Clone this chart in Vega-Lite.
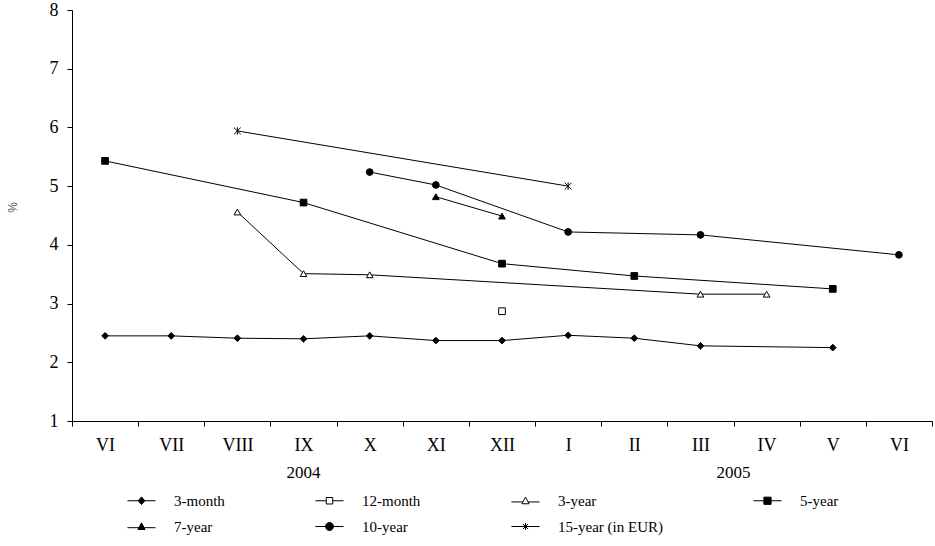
{
  "$schema": "https://vega.github.io/schema/vega-lite/v6.json",
  "width": 860,
  "height": 411,
  "autosize": {"type": "none"},
  "padding": {"left": 72, "top": 10, "right": 3, "bottom": 125},
  "background": "white",
  "datasets": {
    "rates": [
      {"s": "3-month", "m": 0, "v": 2.45},
      {"s": "3-month", "m": 1, "v": 2.45},
      {"s": "3-month", "m": 2, "v": 2.41},
      {"s": "3-month", "m": 3, "v": 2.40},
      {"s": "3-month", "m": 4, "v": 2.45},
      {"s": "3-month", "m": 5, "v": 2.37},
      {"s": "3-month", "m": 6, "v": 2.37},
      {"s": "3-month", "m": 7, "v": 2.46},
      {"s": "3-month", "m": 8, "v": 2.41},
      {"s": "3-month", "m": 9, "v": 2.28},
      {"s": "3-month", "m": 11, "v": 2.25},
      {"s": "12-month", "m": 6, "v": 2.87},
      {"s": "3-year", "m": 2, "v": 4.56},
      {"s": "3-year", "m": 3, "v": 3.51},
      {"s": "3-year", "m": 4, "v": 3.49},
      {"s": "3-year", "m": 9, "v": 3.16},
      {"s": "3-year", "m": 10, "v": 3.16},
      {"s": "5-year", "m": 0, "v": 5.43},
      {"s": "5-year", "m": 3, "v": 4.72},
      {"s": "5-year", "m": 6, "v": 3.68},
      {"s": "5-year", "m": 8, "v": 3.47},
      {"s": "5-year", "m": 11, "v": 3.25},
      {"s": "7-year", "m": 5, "v": 4.82},
      {"s": "7-year", "m": 6, "v": 4.49},
      {"s": "10-year", "m": 4, "v": 5.24},
      {"s": "10-year", "m": 5, "v": 5.02},
      {"s": "10-year", "m": 7, "v": 4.22},
      {"s": "10-year", "m": 9, "v": 4.17},
      {"s": "10-year", "m": 12, "v": 3.83},
      {"s": "15-year (in EUR)", "m": 2, "v": 5.94},
      {"s": "15-year (in EUR)", "m": 7, "v": 5.00}
    ],
    "years": [
      {"label": "2004", "m": 3, "v": 0.11},
      {"label": "2005", "m": 9, "v": 0.11}
    ]
  },
  "resolve": {"scale": {"shape": "independent", "fill": "independent"}},
  "layer": [
    {
      "data": {"name": "rates"},
      "mark": {"type": "line", "stroke": "#000", "strokeWidth": 1, "clip": false},
      "encoding": {
        "x": {"field": "m", "type": "ordinal", "bandPosition": 0.5,
          "scale": {"type": "band", "domain": [0,1,2,3,4,5,6,7,8,9,10,11,12], "paddingInner": 0, "paddingOuter": 0},
          "axis": {"title": null, "labelExpr": "['VI','VII','VIII','IX','X','XI','XII','I','II','III','IV','V','VI'][datum.value]"}},
        "y": {"field": "v", "type": "quantitative",
          "scale": {"domain": [1, 8], "nice": false, "zero": false},
          "axis": {"title": "%", "values": [1,2,3,4,5,6,7,8]}},
        "detail": {"field": "s"}
      }
    },
    {
      "data": {"name": "rates"},
      "mark": {"type": "point", "filled": true, "stroke": "#000", "strokeWidth": 1, "opacity": 1, "clip": false},
      "encoding": {
        "x": {"field": "m", "type": "ordinal", "bandPosition": 0.5,
          "scale": {"type": "band", "domain": [0,1,2,3,4,5,6,7,8,9,10,11,12], "paddingInner": 0, "paddingOuter": 0},
          "axis": {"title": null, "labelExpr": "['VI','VII','VIII','IX','X','XI','XII','I','II','III','IV','V','VI'][datum.value]"}},
        "y": {"field": "v", "type": "quantitative",
          "scale": {"domain": [1, 8], "nice": false, "zero": false},
          "axis": {"title": "%", "values": [1,2,3,4,5,6,7,8]}},
        "shape": {"field": "s", "type": "nominal",
          "scale": {"domain": ["3-month","12-month","3-year","5-year","7-year","10-year","15-year (in EUR)"],
                    "range": ["diamond","square","triangle-up","square","triangle-up","circle","M-1,-1L1,1M-1,1L1,-1M0,-1.1V1.1"]},
          "legend": null},
        "fill": {"field": "s", "type": "nominal",
          "scale": {"domain": ["3-month","12-month","3-year","5-year","7-year","10-year","15-year (in EUR)"],
                    "range": ["#000","#fff","#fff","#000","#000","#000","transparent"]},
          "legend": null},
        "size": {"value": 45}
      }
    },
    {
      "data": {"name": "rates"},
      "transform": [{"filter": "datum.m < 0"}],
      "mark": {"type": "point", "filled": true, "stroke": "#000", "strokeWidth": 1, "opacity": 1, "clip": false},
      "encoding": {
        "x": {"field": "m", "type": "ordinal", "bandPosition": 0.5,
          "scale": {"type": "band", "domain": [0,1,2,3,4,5,6,7,8,9,10,11,12], "paddingInner": 0, "paddingOuter": 0},
          "axis": {"title": null, "labelExpr": "['VI','VII','VIII','IX','X','XI','XII','I','II','III','IV','V','VI'][datum.value]"}},
        "y": {"field": "v", "type": "quantitative",
          "scale": {"domain": [1, 8], "nice": false, "zero": false},
          "axis": {"title": "%", "values": [1,2,3,4,5,6,7,8]}},
        "shape": {"field": "s", "type": "nominal",
          "scale": {"domain": ["3-month","12-month","3-year","5-year","7-year","10-year","15-year (in EUR)"],
                    "range": [
                      "M-1.17,0H1.17M0,-0.32L0.28,0L0,0.32L-0.28,0Z",
                      "M-1.17,0H-0.27M0.27,0H1.17M-0.27,-0.27H0.27V0.27H-0.27Z",
                      "M-1.17,0.1H-0.22M0.22,0.1H1.17M0,-0.3L0.3,0.25L-0.3,0.25Z",
                      "M-1.17,0H1.17M-0.3,-0.3H0.3V0.3H-0.3Z",
                      "M-1.17,0.1H1.17M0,-0.3L0.3,0.25L-0.3,0.25Z",
                      "M-1.17,0H1.17M-0.33,0A0.33,0.33,0,1,0,0.33,0A0.33,0.33,0,1,0,-0.33,0Z",
                      "M-1.17,0H1.17M-0.22,-0.22L0.22,0.22M-0.22,0.22L0.22,-0.22M0,-0.28V0.28"]},
          "legend": {"title": null}},
        "fill": {"field": "s", "type": "nominal",
          "scale": {"domain": ["3-month","12-month","3-year","5-year","7-year","10-year","15-year (in EUR)"],
                    "range": ["#000","#fff","#fff","#000","#000","#000","transparent"]},
          "legend": {"title": null}}
      }
    },
    {
      "data": {"name": "years"},
      "transform": [{"filter": "datum.label == '2004'"}],
      "mark": {"type": "text", "font": "Liberation Serif", "fontSize": 17, "color": "#000", "baseline": "middle", "align": "center", "clip": false},
      "encoding": {
        "x": {"field": "m", "type": "ordinal", "bandPosition": 0.5,
          "scale": {"type": "band", "domain": [0,1,2,3,4,5,6,7,8,9,10,11,12], "paddingInner": 0, "paddingOuter": 0},
          "axis": {"title": null, "labelExpr": "['VI','VII','VIII','IX','X','XI','XII','I','II','III','IV','V','VI'][datum.value]"}},
        "y": {"field": "v", "type": "quantitative",
          "scale": {"domain": [1, 8], "nice": false, "zero": false},
          "axis": {"title": "%", "values": [1,2,3,4,5,6,7,8]}},
        "text": {"field": "label"}
      }
    },
    {
      "data": {"name": "years"},
      "transform": [{"filter": "datum.label == '2005'"}],
      "mark": {"type": "text", "font": "Liberation Serif", "fontSize": 17, "color": "#000", "baseline": "middle", "align": "center", "clip": false},
      "encoding": {
        "x": {"field": "m", "type": "ordinal", "bandPosition": 1,
          "scale": {"type": "band", "domain": [0,1,2,3,4,5,6,7,8,9,10,11,12], "paddingInner": 0, "paddingOuter": 0},
          "axis": {"title": null, "labelExpr": "['VI','VII','VIII','IX','X','XI','XII','I','II','III','IV','V','VI'][datum.value]"}},
        "y": {"field": "v", "type": "quantitative",
          "scale": {"domain": [1, 8], "nice": false, "zero": false},
          "axis": {"title": "%", "values": [1,2,3,4,5,6,7,8]}},
        "text": {"field": "label"}
      }
    }
  ],
  "config": {
    "view": {"stroke": null},
    "axis": {
      "grid": false, "domainColor": "#000", "tickColor": "#000", "labelColor": "#000",
      "labelFont": "Liberation Serif", "labelFontSize": 18, "tickSize": 5,
      "domainWidth": 1, "tickWidth": 1
    },
    "axisX": {"tickBand": "extent", "labelPadding": 10, "labelAngle": 0},
    "axisY": {"labelPadding": 9, "titleFont": "Liberation Sans", "titleFontSize": 12, "titleColor": "#555",
      "titleFontWeight": "normal", "titleX": -60, "titleY": 197, "titleAngle": -90, "titleBaseline": "middle", "titleAlign": "center"},
    "legend": {
      "orient": "none", "legendX": 57, "legendY": 478, "direction": "horizontal", "columns": 4,
      "padding": 0, "symbolSize": 576, "symbolStrokeWidth": 1,
      "labelFont": "Liberation Serif", "labelFontSize": 15, "labelColor": "#000", "labelOffset": 20,
      "columnPadding": 88, "rowPadding": 5, "labelLimit": 300
    }
  }
}
